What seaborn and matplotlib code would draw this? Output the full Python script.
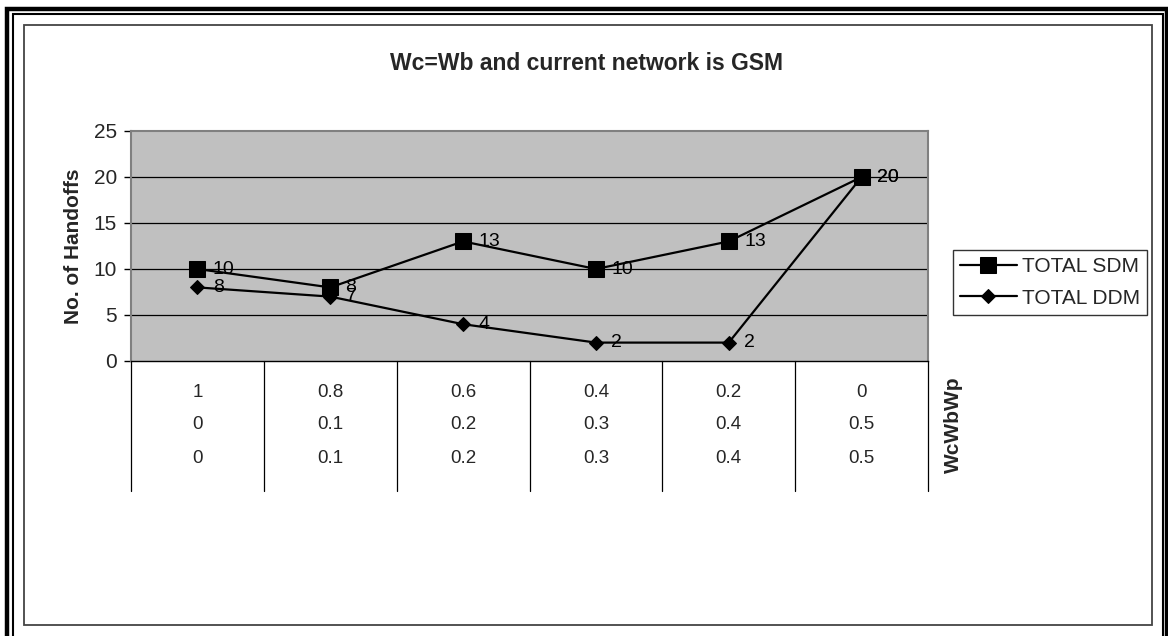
import matplotlib
matplotlib.use("Agg")
import matplotlib.pyplot as plt
from matplotlib.patches import Rectangle
import seaborn as sns
import pandas as pd

# Category table rows (Wc, Wb, Wp) for each group
wc = ["1", "0.8", "0.6", "0.4", "0.2", "0"]
wb = ["0", "0.1", "0.2", "0.3", "0.4", "0.5"]
wp = ["0", "0.1", "0.2", "0.3", "0.4", "0.5"]

# Handoff counts per method
total_sdm = [10, 8, 13, 10, 13, 20]
total_ddm = [8, 7, 4, 2, 2, 20]

title = "Wc=Wb and current network is GSM"
y_label = "No. of Handoffs"
x_label = "WcWbWp"
y_ticks = [0, 5, 10, 15, 20, 25]

sns.set_style("white")
plt.rcParams["font.family"] = ["Liberation Sans", "DejaVu Sans"]

W, H = 1168, 636
fig = plt.figure(figsize=(W / 100, H / 100), dpi=100)


def fx(px):
    return px / W


def fy(py):
    return 1 - py / H


# Plot area placement
left, right, top, bottom = 131, 928, 131, 361
ax = fig.add_axes([fx(left), fy(bottom), fx(right - left), (bottom - top) / H])
ax.set_facecolor("#C0C0C0")

pos = list(range(len(wc)))
df = pd.DataFrame({"pos": pos, "sdm": total_sdm, "ddm": total_ddm})

sns.lineplot(data=df, x="pos", y="sdm", ax=ax, color="black", linewidth=1.6,
             marker="s", markersize=11, markeredgecolor="black",
             markerfacecolor="black", label="TOTAL SDM", zorder=3)
sns.lineplot(data=df, x="pos", y="ddm", ax=ax, color="black", linewidth=1.6,
             marker="D", markersize=7, markeredgecolor="black",
             markerfacecolor="black", label="TOTAL DDM", zorder=3)

# Value labels beside each marker
for col in ["sdm", "ddm"]:
    for x, v in zip(df["pos"], df[col]):
        ax.annotate(str(v), (x, v), xytext=(11, 0), textcoords="offset points",
                    ha="left", va="center", fontsize=14, color="black", zorder=4)

ax.set_xlim(-0.5, len(wc) - 0.5)
ax.set_ylim(0, 25)
ax.set_yticks(y_ticks)
ax.set_yticklabels([str(t) for t in y_ticks], fontsize=15)
ax.set_xticks([])
ax.set_xlabel("")
ax.set_ylabel(y_label, fontsize=15, fontweight="bold", labelpad=8)
ax.tick_params(axis="y", direction="out", length=5, width=1, color="black",
               left=True, pad=5)

for y in y_ticks[1:-1]:
    ax.axhline(y, color="black", linewidth=0.9, zorder=1)

for side in ["top", "right", "left"]:
    ax.spines[side].set_color("#808080")
    ax.spines[side].set_linewidth(1.5)
ax.spines["bottom"].set_color("black")
ax.spines["bottom"].set_linewidth(1.0)

# Multi-level category table below the axis
row_y = [-0.135, -0.278, -0.422]
for rows, yy in zip([wc, wb, wp], row_y):
    for x, lab in zip(pos, rows):
        ax.text(x, yy, lab, transform=ax.get_xaxis_transform(), ha="center",
                va="center", fontsize=13.5, clip_on=False)
for xb in [p - 0.5 for p in pos] + [len(wc) - 0.5]:
    ax.plot([xb, xb], [0, -0.565], transform=ax.get_xaxis_transform(),
            color="black", linewidth=0.9, clip_on=False)

fig.text(fx(953), fy(425), x_label, rotation=90, ha="center", va="center",
         fontsize=15, fontweight="bold")

fig.text(fx(586), fy(63), title, ha="center", va="center", fontsize=16.5,
         fontweight="bold")

handles, labels = ax.get_legend_handles_labels()
leg = ax.legend(handles, labels, loc="upper left",
                bbox_to_anchor=(fx(953), fy(250)),
                bbox_transform=fig.transFigure, borderaxespad=0,
                fontsize=15, frameon=True, fancybox=False, shadow=False,
                handlelength=2.7, handletextpad=0.25, labelspacing=0.6,
                borderpad=0.35)
leg.get_frame().set_edgecolor("black")
leg.get_frame().set_linewidth(1.0)

# Chart area border and double page frame
fig.patches.append(Rectangle((fx(23.5), fy(624.5)), fx(1151.5 - 23.5),
                             (624.5 - 24.5) / H, transform=fig.transFigure,
                             fill=False, edgecolor="#444444", linewidth=1.3))
fig.patches.append(Rectangle((fx(12.5), fy(660)), fx(1162.5 - 12.5),
                             (660 - 14) / H, transform=fig.transFigure,
                             fill=False, edgecolor="black", linewidth=1.5))
fig.patches.append(Rectangle((fx(7), fy(670)), fx(1166.5 - 7),
                             (670 - 9) / H, transform=fig.transFigure,
                             fill=False, edgecolor="black", linewidth=3.2))

fig.savefig("out.png", dpi=100, facecolor="white")
